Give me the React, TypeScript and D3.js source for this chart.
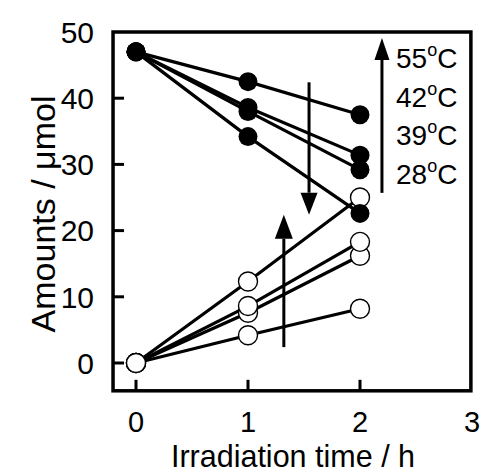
import React from "react";
import * as d3 from "d3";

// irradiation time (h)
const times = [0, 1, 2];
const temps = ["28", "39", "42", "55"];

// filled circles, decreasing amounts (µmol) per temperature
const consumed28 = [47, 42.5, 37.5];
const consumed39 = [47, 38.6, 31.4];
const consumed42 = [47, 38.0, 29.2];
const consumed55 = [47, 34.2, 22.6];

// open circles, increasing amounts (µmol) per temperature
const formed28 = [0, 4.2, 8.2];
const formed39 = [0, 7.6, 16.2];
const formed42 = [0, 8.6, 18.3];
const formed55 = [0, 12.3, 25.0];

const xTicks = [0, 1, 2, 3];
const yTicks = [0, 10, 20, 30, 40, 50];

const W = 481;
const H = 473;
const FONT = "'Liberation Sans', Arial, sans-serif";

const App = () => {
  const x = d3.scaleLinear().domain([0, 3]).range([136, 472]);
  const y = d3.scaleLinear().domain([0, 50]).range([363, 32]);

  const left = x(-0.205);
  const right = x(2.99);
  const top = y(50);
  const bottom = y(-4.2);

  const line = d3
    .line<number>()
    .x((_, i) => x(times[i]))
    .y((d) => y(d));

  const filled = [consumed28, consumed39, consumed42, consumed55];
  const open = [formed28, formed39, formed42, formed55];

  // vertical arrow from y0 to the tip at y1 (data coords)
  const arrow = (ax: number, y0: number, y1: number, hw: number, hh: number, key: string) => {
    const px = x(ax);
    const tip = y(y1);
    const dir = y1 > y0 ? 1 : -1;
    const base = tip + dir * hh;
    return (
      <g key={key}>
        <line x1={px} x2={px} y1={y(y0)} y2={base} stroke="#000" strokeWidth={3} />
        <path d={`M${px},${tip} L${px - hw / 2},${base} L${px + hw / 2},${base} Z`} fill="#000" />
      </g>
    );
  };

  return (
    <svg
      width={W}
      height={H}
      style={{ position: "absolute", left: 0, top: 0, background: "#fff" }}
      fontFamily={FONT}
    >
      {/* ticks inside frame */}
      {yTicks.slice(0, -1).map((t) => (
        <line key={`yt${t}`} x1={left} x2={left + 11} y1={y(t)} y2={y(t)} stroke="#000" strokeWidth={3} />
      ))}
      {xTicks.slice(0, -1).map((t) => (
        <line key={`xt${t}`} x1={x(t)} x2={x(t)} y1={bottom} y2={bottom - 11} stroke="#000" strokeWidth={3} />
      ))}

      {/* tick labels */}
      {yTicks.map((t) => (
        <text key={`yl${t}`} x={94} y={y(t)} dy="0.36em" textAnchor="end" fontSize={30}>
          {t}
        </text>
      ))}
      {xTicks.map((t) => (
        <text key={`xl${t}`} x={x(t)} y={432} textAnchor="middle" fontSize={29}>
          {t}
        </text>
      ))}

      {/* axis titles */}
      <text x={293} y={467} textAnchor="middle" fontSize={30.5}>
        Irradiation time / h
      </text>
      <text transform={`translate(55,${214}) rotate(-90)`} textAnchor="middle" fontSize={34}>
        Amounts / μmol
      </text>

      {/* series lines */}
      {open.map((s, i) => (
        <path key={`ol${i}`} d={line(s) || ""} fill="none" stroke="#000" strokeWidth={3.2} />
      ))}
      {filled.map((s, i) => (
        <path key={`fl${i}`} d={line(s) || ""} fill="none" stroke="#000" strokeWidth={3.2} />
      ))}

      {/* markers */}
      {open.map((s, i) =>
        s.map((v, j) => (
          <circle key={`oc${i}-${j}`} cx={x(times[j])} cy={y(v)} r={9.5} fill="#fff" stroke="#000" strokeWidth={1.4} />
        ))
      )}
      {filled.map((s, i) =>
        s.map((v, j) => <circle key={`fc${i}-${j}`} cx={x(times[j])} cy={y(v)} r={9.5} fill="#000" />)
      )}

      {/* trend arrows */}
      {arrow(1.545, 42.4, 22.4, 17, 22, "down")}
      {arrow(1.32, 2.4, 22.4, 18, 24, "up")}
      {arrow(2.196, 25.7, 49.1, 15, 22, "legend")}

      {/* temperature labels, highest at top */}
      {temps
        .slice()
        .reverse()
        .map((t, i) => (
          <text key={`tl${t}`} x={396} y={68 + i * 38.5} fontSize={28}>
            {t}
            <tspan fontSize={18} dy={-12}>
              o
            </tspan>
            <tspan dy={12}>C</tspan>
          </text>
        ))}

      {/* frame */}
      <rect x={left} y={top} width={right - left} height={bottom - top} fill="none" stroke="#000" strokeWidth={3.5} />
    </svg>
  );
};

export default App;
